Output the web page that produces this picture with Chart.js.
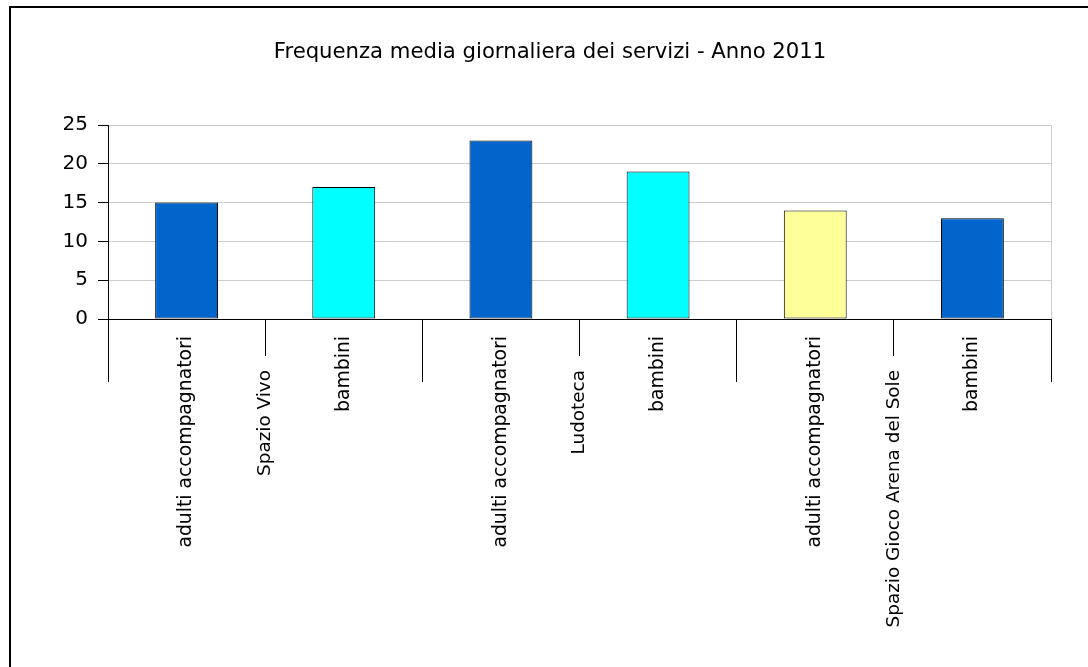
<!DOCTYPE html>
<html lang="it">
<head>
<meta charset="utf-8">
<title>Frequenza media giornaliera dei servizi - Anno 2011</title>
<script src="https://cdn.jsdelivr.net/npm/chart.js@4/dist/chart.umd.min.js"></script>
<style>
  html, body { margin: 0; padding: 0; background: #fff; overflow: hidden; }
  #frame {
    position: absolute; left: 9px; top: 6px;
    width: 1100px; height: 700px;
    border: 2px solid #000;
  }
  #wrap { position: absolute; left: 0; top: 0; width: 1088px; height: 667px; }
</style>
</head>
<body>
<div id="frame"></div>
<div id="wrap"><canvas id="barChart" width="1088" height="667"></canvas></div>
<script>
// ── data ──
const BAR_LABELS  = ['adulti accompagnatori', 'bambini', 'adulti accompagnatori', 'bambini', 'adulti accompagnatori', 'bambini'];
const VALUES      = [15, 17, 23, 19, 14, 13];
const GROUPS      = ['Spazio Vivo', 'Ludoteca', 'Spazio Gioco Arena del Sole'];
const GROUP_SIZES = [2, 2, 2];
const Y_TICKS     = [0, 5, 10, 15, 20, 25];

const BAR_COLORS = ['#0066cc', '#00ffff', '#0066cc', '#00ffff', '#ffff99', '#0066cc'];
const GRID_COLOR = '#cccccc';

// group centres and boundaries, in bar-index units
const groupCenters = [];
const groupEdges = [-0.5];
let start = 0;
GROUP_SIZES.forEach(n => {
  groupCenters.push(start + (n - 1) / 2);
  start += n;
  groupEdges.push(start - 0.5);
});
const xMin = groupEdges[0];
const xMax = groupEdges[groupEdges.length - 1];

Chart.defaults.font.family = "'DejaVu Sans', Verdana, sans-serif";
Chart.defaults.font.size = 18;
Chart.defaults.color = '#000';

new Chart(document.getElementById('barChart'), {
  type: 'bar',
  data: {
    labels: BAR_LABELS,
    datasets: [{
      label: 'Frequenza media',
      data: VALUES,
      xAxisID: 'x',
      yAxisID: 'y',
      backgroundColor: BAR_COLORS,
      borderColor: '#000',
      borderWidth: 1,
      borderSkipped: false,
      categoryPercentage: 1,
      barPercentage: 0.4,
    }],
  },
  options: {
    responsive: false,
    animation: false,
    layout: { padding: { left: 49, right: 37, top: 0, bottom: 0 } },
    plugins: {
      legend: { display: false },
      tooltip: { enabled: false },
      title: {
        display: true,
        text: 'Frequenza media giornaliera dei servizi - Anno 2011',
        color: '#000',
        font: { size: 21.2, weight: 'normal' },
        padding: { top: 39.3, bottom: 60.3 },
      },
    },
    scales: {
      x: {
        type: 'category',
        position: 'bottom',
        grid: { display: false, drawTicks: false },
        border: { display: true, color: '#000', width: 1, z: 1 },
        ticks: { autoSkip: false, minRotation: 90, maxRotation: 90, padding: 17, color: '#000', font: { size: 18.8 } },
        afterFit: s => { s.height = 348; },
      },
      // group names, between the two bars of each group
      xGroups: {
        type: 'linear',
        position: { y: 0 },
        min: xMin, max: xMax,
        offset: false,
        afterBuildTicks: s => { s.ticks = groupCenters.map(v => ({ value: v })); },
        grid: { offset: false, drawOnChartArea: false, color: '#000', tickColor: '#000', tickLength: 37 },
        border: { display: false },
        ticks: {
          autoSkip: false, minRotation: 90, maxRotation: 90, padding: 14, color: '#000', font: { size: 18.4 },
          callback: (v, i) => GROUPS[i],
        },
      },
      // long ticks at the group boundaries
      xEdges: {
        type: 'linear',
        position: { y: 0 },
        min: xMin, max: xMax,
        offset: false,
        afterBuildTicks: s => { s.ticks = groupEdges.map(v => ({ value: v })); },
        grid: {
          offset: false,
          drawOnChartArea: true,
          color: ctx => (ctx.index === groupEdges.length - 1 ? GRID_COLOR : 'rgba(0,0,0,0)'),
          tickColor: '#000',
          tickLength: 63,
        },
        border: { display: false },
        ticks: { display: false },
      },
      y: {
        min: 0, max: 25,
        afterBuildTicks: s => { s.ticks = Y_TICKS.map(v => ({ value: v })); },
        grid: { color: GRID_COLOR, tickColor: '#000', tickLength: 10 },
        border: { display: true, color: '#000', width: 1, z: 1 },
        ticks: { padding: 10, color: '#000', font: { size: 20 } },
        afterFit: s => { s.width = 59; },
      },
    },
  },
});
</script>
</body>
</html>
